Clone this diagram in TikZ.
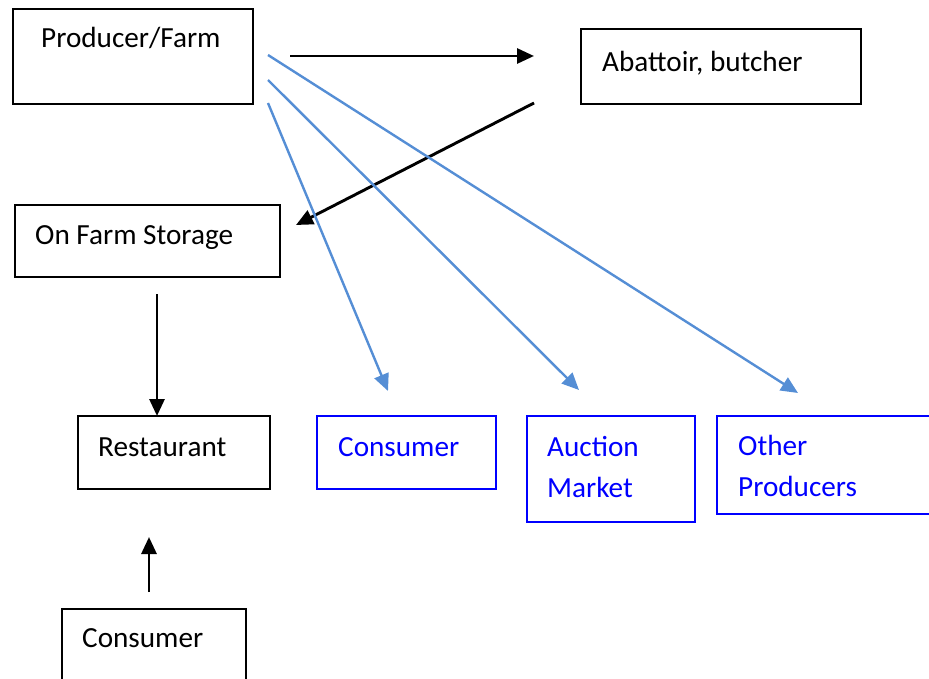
\documentclass[tikz,border=0pt]{standalone}
\usepackage{fontspec}
\setmainfont{Carlito}
\usetikzlibrary{arrows.meta}
\definecolor{flowblue}{RGB}{85,142,213}
\definecolor{boxblue}{RGB}{0,0,255}
\tikzset{
  blackbox/.style={draw=black, line width=2pt, rectangle, inner sep=0pt, anchor=north west},
  bluebox/.style={draw=boxblue, line width=2pt, rectangle, inner sep=0pt, anchor=north west},
  lbl/.style={anchor=base west, inner sep=0pt, font=\fontsize{29.2}{41}\selectfont},
  bluelbl/.style={lbl, text=boxblue},
  blackarrow/.style={draw=black, line width=2.9pt, -{Triangle[length=17pt,width=15pt]}},
  bluearrow/.style={draw=flowblue, line width=2.4pt, -{Triangle[length=17pt,width=15pt]}},
}
\begin{document}
\begin{tikzpicture}[x=1pt, y=-1pt]
\useasboundingbox (0,0) rectangle (929,679);
\clip (0,0) rectangle (929,679);

% boxes
\node[blackbox, minimum width=240pt, minimum height=95pt] (farm) at (12,8) {};
\node[blackbox, minimum width=280pt, minimum height=75pt] (abattoir) at (580,28) {};
\node[blackbox, minimum width=265pt, minimum height=72pt] (storage) at (14,204) {};
\node[blackbox, minimum width=192pt, minimum height=73pt] (restaurant) at (77,415) {};
\node[bluebox, minimum width=179pt, minimum height=73pt] (consumer) at (316,415) {};
\node[bluebox, minimum width=168pt, minimum height=106pt] (auction) at (526,415) {};
\node[bluebox, minimum width=260pt, minimum height=98pt] (others) at (716,415) {};
\node[blackbox, minimum width=184pt, minimum height=100pt] (buyer) at (61,608) {};

% labels
\node[lbl] (farmtxt) at (41,48) {Producer/Farm};
\node[lbl] (abattoirtxt) at (602,72) {Abattoir, butcher};
\node[lbl] (storagetxt) at (35,244) {On Farm Storage};
\node[lbl] (restauranttxt) at (98,456) {Restaurant};
\node[bluelbl] (consumertxt) at (338,456) {Consumer};
\node[bluelbl] (auctiontxt1) at (547,456) {Auction};
\node[bluelbl] (auctiontxt2) at (547,497) {Market};
\node[bluelbl] (otherstxt1) at (738,455) {Other};
\node[bluelbl] (otherstxt2) at (738,496) {Producers};
\node[lbl] (buyertxt) at (82,647) {Consumer};

% connector ends
\coordinate (fa1) at (290,56);
\coordinate (fa2) at (534,56);
\coordinate (as1) at (534,103);
\coordinate (as2) at (296,225);
\coordinate (sr1) at (157,294);
\coordinate (sr2) at (157,416);
\coordinate (cr1) at (149,592);
\coordinate (cr2) at (149,537);
\coordinate (fo1) at (268,55);
\coordinate (fo2) at (798,393);
\coordinate (fm1) at (268,80);
\coordinate (fm2) at (579,390);
\coordinate (fc1) at (268,103);
\coordinate (fc2) at (388,391);

% black flows
\draw[blackarrow] (fa1) -- (fa2);
\draw[blackarrow] (as1) -- (as2);
\draw[blackarrow] (sr1) -- (sr2);
\draw[blackarrow] (cr1) -- (cr2);

% blue flows
\draw[bluearrow] (fo1) -- (fo2);
\draw[bluearrow] (fm1) -- (fm2);
\draw[bluearrow] (fc1) -- (fc2);
\end{tikzpicture}
\end{document}
